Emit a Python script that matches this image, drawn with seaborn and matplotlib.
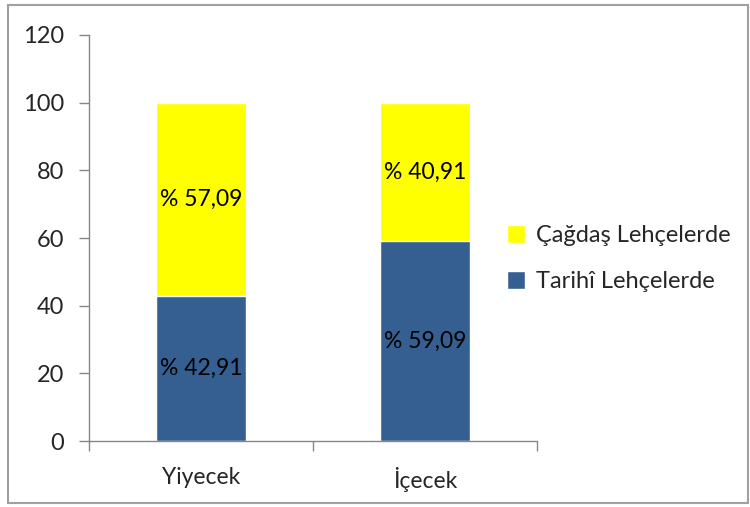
import matplotlib
matplotlib.use("Agg")
import matplotlib.pyplot as plt
import seaborn as sns
import pandas as pd
from matplotlib.patches import Patch, Rectangle

categories = ["Yiyecek", "İçecek"]
tarihi = [42.91, 59.09]
cagdas = [57.09, 40.91]
tarihi_labels = ["% 42,91", "% 59,09"]
cagdas_labels = ["% 57,09", "% 40,91"]

blue = "#365F91"
yellow = "#FFFF00"
axis_gray = "#868686"

sns.set_style("white")
plt.rcParams["font.family"] = ["Lato", "DejaVu Sans"]

df = pd.DataFrame({
    "kategori": categories,
    "tarihi": tarihi,
    "toplam": [a + b for a, b in zip(tarihi, cagdas)],
})

fig = plt.figure(figsize=(7.5, 5.07), dpi=100)
ax = fig.add_axes([0.1187, 0.130, 0.5973, 0.801])

# stacked: total first (yellow), then bottom part (blue) on top of it
sns.barplot(data=df, x="kategori", y="toplam", color=yellow, width=0.4,
            saturation=1, ax=ax)
sns.barplot(data=df, x="kategori", y="tarihi", color=blue, width=0.4,
            saturation=1, ax=ax)

for i in range(len(categories)):
    ax.text(i, tarihi[i] / 2, tarihi_labels[i], ha="center", va="center",
            fontsize=16.5, color="black")
    ax.text(i, tarihi[i] + cagdas[i] / 2, cagdas_labels[i], ha="center",
            va="center", fontsize=16.5, color="black")

ax.set_xlim(-0.5, 1.5)
ax.set_ylim(0, 120)
ax.set_yticks(range(0, 121, 20))
ax.set_xlabel("")
ax.set_ylabel("")

# category separators as tick marks, labels centred on bars
ax.set_xticks([-0.5, 0.5, 1.5])
ax.set_xticklabels([])
ax.set_xticks([0, 1], minor=True)
ax.set_xticklabels(categories, minor=True)
ax.tick_params(axis="x", which="major", length=7, width=1, color=axis_gray,
               direction="out", bottom=True)
ax.tick_params(axis="x", which="minor", length=0, labelsize=16.5, pad=19)
ax.tick_params(axis="y", length=7, width=1, color=axis_gray, direction="out",
               left=True, labelsize=17, pad=11)

for side in ["top", "right"]:
    ax.spines[side].set_visible(False)
for side in ["left", "bottom"]:
    ax.spines[side].set_color(axis_gray)
    ax.spines[side].set_linewidth(1)

handles = [Patch(facecolor=yellow, label="Çağdaş Lehçelerde"),
           Patch(facecolor=blue, label="Tarihî Lehçelerde")]
fig.legend(handles=handles, loc="center left", bbox_to_anchor=(0.647, 0.49),
           frameon=False, fontsize=17, handlelength=0.8, handleheight=0.8,
           handletextpad=0.45, labelspacing=1.05)

fig.patches.append(Rectangle((0.011, 0.008), 0.986, 0.982,
                             transform=fig.transFigure, fill=False,
                             edgecolor="#A0A0A0", linewidth=1.5))

fig.savefig("out.png", dpi=100)
